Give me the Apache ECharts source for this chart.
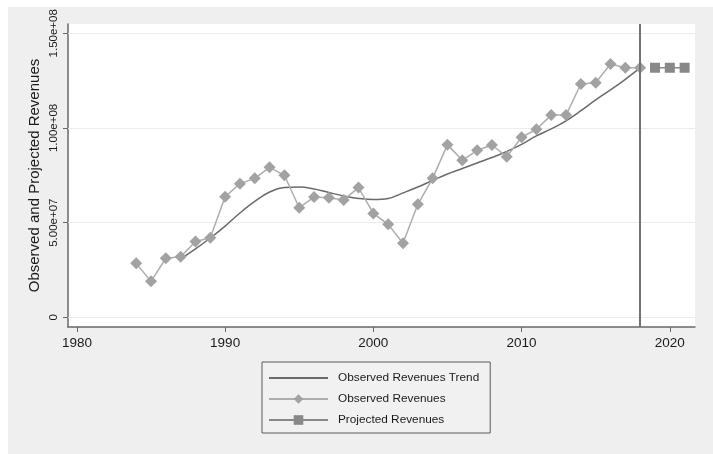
<!DOCTYPE html>
<html>
<head>
<meta charset="utf-8">
<script src="https://cdn.jsdelivr.net/npm/echarts@6/dist/echarts.min.js"></script>
<style>
  html, body { margin: 0; padding: 0; background: #ffffff; }
  #wrap { position: relative; width: 713px; height: 454px; background: #ffffff; overflow: hidden; }
  #panel { position: absolute; left: 8px; top: 7px; right: 0; bottom: 0; background: #efefef; }
  #chart { position: absolute; left: 0; top: 0; width: 713px; height: 454px; }
</style>
</head>
<body>
<div id="wrap">
  <div id="panel"></div>
  <div id="chart"></div>
</div>
<script>
// Observed annual revenues
const years = [1984, 1985, 1986, 1987, 1988, 1989, 1990, 1991, 1992, 1993, 1994, 1995,
  1996, 1997, 1998, 1999, 2000, 2001, 2002, 2003, 2004, 2005, 2006, 2007, 2008, 2009,
  2010, 2011, 2012, 2013, 2014, 2015, 2016, 2017, 2018];
const observed = [2.85e7, 1.90e7, 3.12e7, 3.20e7, 4.01e7, 4.20e7, 6.37e7, 7.06e7, 7.34e7,
  7.92e7, 7.50e7, 5.79e7, 6.35e7, 6.32e7, 6.20e7, 6.85e7, 5.49e7, 4.91e7, 3.91e7, 5.97e7,
  7.34e7, 9.12e7, 8.29e7, 8.82e7, 9.10e7, 8.48e7, 9.51e7, 9.93e7, 1.068e8, 1.068e8,
  1.232e8, 1.239e8, 1.338e8, 1.318e8, 1.318e8];

// Fitted trend of the observed revenues
const trendYears = [1987, 1988, 1989, 1990, 1991, 1992, 1993, 1994, 1995, 1996, 1997, 1998,
  1999, 2000, 2001, 2002, 2003, 2004, 2005, 2006, 2007, 2008, 2009, 2010, 2011, 2012,
  2013, 2014, 2015, 2016, 2017, 2018];
const trend = [3.08e7, 3.61e7, 4.19e7, 4.82e7, 5.51e7, 6.12e7, 6.62e7, 6.86e7, 6.88e7,
  6.78e7, 6.59e7, 6.41e7, 6.28e7, 6.22e7, 6.28e7, 6.57e7, 6.88e7, 7.23e7, 7.57e7, 7.86e7,
  8.15e7, 8.44e7, 8.76e7, 9.13e7, 9.58e7, 9.95e7, 1.038e8, 1.091e8, 1.148e8, 1.201e8,
  1.257e8, 1.317e8];

// Projection beyond the last observed year
const projYears = [2019, 2020, 2021];
const projected = [1.318e8, 1.318e8, 1.318e8];
const cutoffYear = 2018;

// Axis ticks
const xTicks = [1980, 1990, 2000, 2010, 2020];
const yTicks = [0, 5e7, 1e8, 1.5e8];
const yTickLabels = ['0', '5.00e+07', '1.00e+08', '1.50e+08'];

const pairs = (xs, ys) => xs.map((x, i) => [x, ys[i]]);
const FONT = '"Liberation Sans", Arial, Helvetica, sans-serif';
const AXIS_COLOR = '#686868';

const chart = echarts.init(document.getElementById('chart'), null, { renderer: 'canvas' });

chart.setOption({
  animation: false,
  backgroundColor: 'transparent',
  textStyle: { fontFamily: FONT },
  grid: {
    left: 68, top: 24, right: 18, bottom: 127,
    show: true, backgroundColor: '#ffffff', borderWidth: 0
  },
  xAxis: {
    type: 'value',
    min: 1979.4,
    max: 2021.7,
    axisLine: { show: true, onZero: false, lineStyle: { color: AXIS_COLOR, width: 1.5 } },
    axisTick: { show: true, customValues: xTicks, length: 5, lineStyle: { color: AXIS_COLOR, width: 1 } },
    axisLabel: {
      customValues: xTicks, margin: 9, fontSize: 13.5, color: '#1a1a1a', fontFamily: FONT,
      formatter: v => String(v)
    },
    splitLine: { show: false }
  },
  yAxis: {
    type: 'value',
    min: -5.1e6,
    max: 1.549e8,
    name: 'Observed and Projected Revenues',
    nameLocation: 'middle',
    nameGap: 26,
    nameMoveOverlap: false,
    nameTextStyle: { fontSize: 15, color: '#1a1a1a', fontFamily: FONT },
    axisLine: { show: true, onZero: false, lineStyle: { color: AXIS_COLOR, width: 1.5 } },
    axisTick: { show: true, customValues: yTicks, length: 5, lineStyle: { color: AXIS_COLOR, width: 1 } },
    axisLabel: {
      customValues: yTicks, rotate: 90, margin: 8, fontSize: 11.5, color: '#1a1a1a', fontFamily: FONT,
      formatter: v => {
        const i = yTicks.indexOf(v);
        return i >= 0 ? yTickLabels[i] : '';
      }
    },
    splitLine: { show: false }
  },
  legend: {
    orient: 'vertical',
    left: 262,
    top: 362,
    padding: [10, 11, 7, 6],
    itemGap: 9,
    itemWidth: 59,
    itemHeight: 12,
    borderColor: '#5a5a5a',
    borderWidth: 1,
    borderRadius: 0,
    backgroundColor: '#f1f1f1',
    textStyle: { fontSize: 11.8, color: '#1a1a1a', fontFamily: FONT, padding: [0, 0, 0, 5] },
    data: [
      { name: 'Observed Revenues Trend', itemStyle: { opacity: 0 } },
      'Observed Revenues',
      'Projected Revenues'
    ]
  },
  series: [
    {
      // horizontal reference lines at the labelled y ticks, kept beneath the data
      name: 'gridlines',
      type: 'line',
      data: [],
      silent: true,
      z: 1,
      markLine: {
        z: 1,
        silent: true,
        symbol: ['none', 'none'],
        label: { show: false },
        lineStyle: { color: '#ececec', width: 1.2, type: 'solid' },
        data: yTicks.map(v => ({ yAxis: v }))
      }
    },
    {
      name: 'Observed Revenues Trend',
      type: 'line',
      data: pairs(trendYears, trend),
      smooth: 0.4,
      symbol: 'none',
      z: 3,
      itemStyle: { color: '#6a6a6a' },
      lineStyle: { color: '#6a6a6a', width: 1.5 }
    },
    {
      name: 'Observed Revenues',
      type: 'line',
      data: pairs(years, observed),
      symbol: 'diamond',
      symbolSize: 12,
      showSymbol: true,
      z: 4,
      itemStyle: { color: '#a2a2a2' },
      lineStyle: { color: '#adadad', width: 1.5 },
      markLine: {
        z: 5,
        silent: true,
        symbol: ['none', 'none'],
        label: { show: false },
        lineStyle: { color: '#737373', width: 2, type: 'solid' },
        data: [{ xAxis: cutoffYear }]
      }
    },
    {
      name: 'Projected Revenues',
      type: 'line',
      data: pairs(projYears, projected),
      symbol: 'rect',
      symbolSize: 10,
      z: 4,
      itemStyle: { color: '#888888' },
      lineStyle: { color: '#888888', width: 1.5 }
    }
  ]
});
</script>
</body>
</html>
